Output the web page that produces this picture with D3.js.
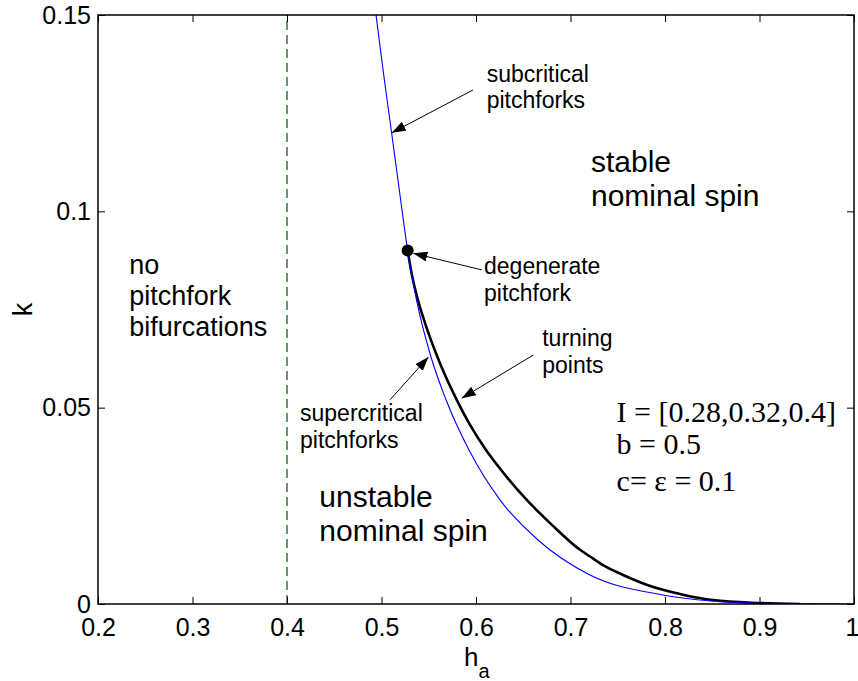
<!DOCTYPE html>
<html><head><meta charset="utf-8">
<script src="https://cdn.jsdelivr.net/npm/d3@7"></script>
<style>
body{margin:0;background:#fff;}
text{font-family:"Liberation Sans",Arial,Helvetica,sans-serif;fill:#000;}
.serif{font-family:"Liberation Serif","Times New Roman",serif;}
</style></head>
<body><svg id="c" width="858" height="681"></svg>
<script>
// ---- data ----
const xTicks = [0.2,0.3,0.4,0.5,0.6,0.7,0.8,0.9,1];
const xTickLabels = ["0.2","0.3","0.4","0.5","0.6","0.7","0.8","0.9","1"];
const yTicks = [0,0.05,0.1,0.15];
const yTickLabels = ["0","0.05","0.1","0.15"];

// pitchfork curve (blue)
const pitchH = [0.4942,0.5022,0.5107,0.5191,0.5277,0.5371,0.5524,0.5683,0.5926,0.6254,0.6656,0.7206,0.7979,0.8487,0.9005,0.9534,1.0000];
const pitchK = [0.1500,0.1350,0.1200,0.1050,0.0900,0.0774,0.0629,0.0520,0.0392,0.0265,0.0163,0.0074,0.0023,0.00076,0.00020,0.00005,0];
// turning points curve (black)
const turnH = [0.5277,0.5322,0.5386,0.5467,0.5563,0.5672,0.5796,0.5937,0.6106,0.6307,0.6537,0.6806,0.7101,0.7206,0.7344,0.7556,0.7820,0.7979,0.8201,0.8508,0.9005,0.9429];
const turnK = [0.0900,0.0838,0.0774,0.0711,0.0647,0.0583,0.0520,0.0456,0.0392,0.0329,0.0265,0.0201,0.0138,0.0121,0.0099,0.0074,0.0048,0.0036,0.0023,0.0010,0.00025,0];
// degenerate pitchfork point
const degH = [0.5277];
const degK = [0.090];
// boundary h = 0.4
const boundaryH = [0.4];

// annotations
const regionLabels = [
  {lines:["stable","nominal spin"], h:0.7217, k:0.1100, size:30},
  {lines:["unstable","nominal spin"], h:0.4342, k:0.0247, size:30},
  {lines:["no","pitchfork","bifurcations"], h:0.2331, k:0.0840, size:27, lh:31}
];
const arrowLabels = [
  {lines:["subcritical","pitchforks"], h:0.6113, k:0.1330, from:[0.5968,0.1309], to:[0.5109,0.1200]},
  {lines:["degenerate","pitchfork"], h:0.6085, k:0.0840, from:[0.6060,0.0851], to:[0.5337,0.0893]},
  {lines:["turning","points"], h:0.6701, k:0.0657, from:[0.6606,0.0634], to:[0.5849,0.0524]},
  {lines:["supercritical","pitchforks"], h:0.4138, k:0.0466, from:[0.5090,0.0520], to:[0.5497,0.0629]}
];
const paramLines = ["I = [0.28,0.32,0.4]","b = 0.5","c= \u03b5 = 0.1"];
const paramPos = {h:0.7488, k:0.0464};

// ---- drawing ----
const svg = d3.select("#c");
const x = d3.scaleLinear().domain([0.2,1]).range([98,854]);
const y = d3.scaleLinear().domain([0,0.15]).range([604,15]);

svg.append("defs").append("marker")
  .attr("id","ah").attr("markerUnits","userSpaceOnUse")
  .attr("markerWidth",16).attr("markerHeight",12)
  .attr("refX",14).attr("refY",5).attr("orient","auto")
  .append("path").attr("d","M0,0 L14,5 L0,10 Z").attr("fill","#000");

// boundary dashed line
svg.selectAll(".bnd").data(boundaryH).enter().append("line")
  .attr("x1",d=>x(d)).attr("x2",d=>x(d)).attr("y1",y(0)).attr("y2",y(0.15))
  .attr("stroke","#6a946a").attr("stroke-width",2).attr("stroke-dasharray","9,5");

const line = d3.line().x(d=>x(d[0])).y(d=>y(d[1])).curve(d3.curveMonotoneX);
const pitchPts = pitchH.map((h,i)=>[h,pitchK[i]]);
const turnPts = turnH.map((h,i)=>[h,turnK[i]]);

svg.append("defs").append("clipPath").attr("id","clip").append("rect")
  .attr("x",x(0.2)).attr("y",y(0.15)).attr("width",x(1)-x(0.2)).attr("height",y(0)-y(0.15));

svg.append("path").datum(turnPts).attr("d",line).attr("fill","none")
  .attr("stroke","#000").attr("stroke-width",2.6).attr("clip-path","url(#clip)");
svg.append("path").datum(pitchPts).attr("d",line).attr("fill","none")
  .attr("stroke","#0000ff").attr("stroke-width",1.1).attr("clip-path","url(#clip)");

svg.selectAll(".deg").data(degH).enter().append("circle")
  .attr("cx",d=>x(d)).attr("cy",(d,i)=>y(degK[i])).attr("r",6).attr("fill","#000");

// axes
const fmtX = (d)=>xTickLabels[xTicks.indexOf(d)];
const fmtY = (d)=>yTickLabels[yTicks.indexOf(d)];
const gB = svg.append("g").attr("transform",`translate(0,${y(0)})`)
  .call(d3.axisBottom(x).tickValues(xTicks).tickFormat(fmtX).tickSizeInner(-7).tickSizeOuter(0).tickPadding(14));
const gL = svg.append("g").attr("transform",`translate(${x(0.2)},0)`)
  .call(d3.axisLeft(y).tickValues(yTicks).tickFormat(fmtY).tickSizeInner(-7).tickSizeOuter(0).tickPadding(7));
const gT = svg.append("g").attr("transform",`translate(0,${y(0.15)})`)
  .call(d3.axisTop(x).tickValues(xTicks).tickFormat("").tickSizeInner(-7).tickSizeOuter(0));
const gR = svg.append("g").attr("transform",`translate(${x(1)},0)`)
  .call(d3.axisRight(y).tickValues(yTicks).tickFormat("").tickSizeInner(-7).tickSizeOuter(0));
[gB,gL,gT,gR].forEach(g=>{
  g.select(".domain").remove();
  g.selectAll("line").attr("stroke","#000").attr("stroke-width",1);
  g.selectAll("text").attr("font-family","'Liberation Sans',Arial,sans-serif").attr("font-size",25).attr("fill","#000");
});
gB.selectAll(".tick text").filter(d=>d===1).attr("dx",-2);
svg.append("rect").attr("x",x(0.2)).attr("y",y(0.15)).attr("width",x(1)-x(0.2)).attr("height",y(0)-y(0.15))
  .attr("fill","none").attr("stroke","#000").attr("stroke-width",1.5);

// axis labels
const xl = svg.append("text").attr("x",x(0.6)-12).attr("y",666).attr("font-size",26);
xl.append("tspan").text("h");
xl.append("tspan").attr("dy",12).attr("font-size",20).text("a");
svg.append("text").attr("transform",`translate(32,${y(0.075)}) rotate(-90)`)
  .attr("text-anchor","middle").attr("font-size",27).text("k");

// region labels
regionLabels.forEach(r=>{
  const t = svg.append("text").attr("x",x(r.h)).attr("y",y(r.k)).attr("font-size",r.size);
  r.lines.forEach((s,i)=>t.append("tspan").attr("x",x(r.h)).attr("dy",i?(r.lh||34):0).text(s));
});
// arrow labels
arrowLabels.forEach(a=>{
  const t = svg.append("text").attr("x",x(a.h)).attr("y",y(a.k)).attr("font-size",23);
  a.lines.forEach((s,i)=>t.append("tspan").attr("x",x(a.h)).attr("dy",i?26.5:0).text(s));
  svg.append("line").attr("x1",x(a.from[0])).attr("y1",y(a.from[1]))
    .attr("x2",x(a.to[0])).attr("y2",y(a.to[1]))
    .attr("stroke","#000").attr("stroke-width",1).attr("marker-end","url(#ah)");
});
// parameters
const pt = svg.append("text").attr("class","serif").attr("x",x(paramPos.h)).attr("y",y(paramPos.k)).attr("font-size",30);
paramLines.forEach((s,i)=>pt.append("tspan").attr("x",x(paramPos.h)).attr("dy",i?(i==1?32.5:37):0).text(s));
</script></body></html>
